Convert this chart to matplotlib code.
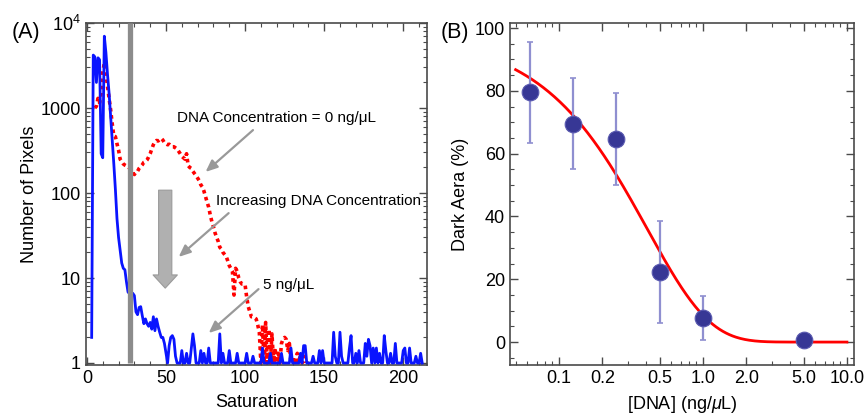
import numpy as np
import matplotlib
matplotlib.use("Agg")
import matplotlib.pyplot as plt
from matplotlib.ticker import MultipleLocator, FixedLocator, LogLocator, NullFormatter

plt.rcParams['font.family'] = ['Liberation Sans', 'DejaVu Sans']
plt.rcParams['mathtext.fontset'] = 'custom'
plt.rcParams['mathtext.it'] = 'Liberation Sans:italic'
plt.rcParams['mathtext.rm'] = 'Liberation Sans'

# --- panel A: saturation histograms (pixel counts per saturation value) ---
blue_start = 3
blue_counts = [
    2, 4200, 4000, 2000, 3900, 3700, 290, 260, 7000, 4500,          # 3-12
    2500, 1500, 800, 420, 220, 110, 50, 30, 21, 15,                 # 13-22
    13, 12.5, 9, 6.8, 6.6, 6.6, 6.6, 6.2, 4.0, 3.7,                 # 23-32
    4.5, 4.6, 3.6, 2.9, 3.3, 2.9, 2.7, 3.0, 2.5, 3.5,               # 33-42
    2.4, 3.3, 2.7, 2.3, 2.0, 2.0, 1.7, 1.3, 1.0, 1.6,               # 43-52
    2.0, 2.1, 1.9, 1.2, 1, 1, 1, 1.4, 1, 1,                         # 53-62
    1.3, 1, 1, 1.5, 2.2, 1.6, 1, 1, 1, 1.4,                         # 63-72
    1, 1.3, 1, 1, 1.5, 1, 1, 1, 1, 1,                               # 73-82
    1, 2.2, 1, 1.3, 1, 1, 1, 1.4, 1, 1,                             # 83-92
    1, 1, 1.3, 1, 1, 1, 1, 1, 1.3, 1,                               # 93-102
    1, 1, 1.2, 1, 1, 1, 1, 1, 1.5, 1,                               # 103-112
    1, 1, 1, 1.3, 1, 1, 1, 1, 1, 1,                                 # 113-122
    1.3, 1, 1, 1, 1, 1, 1.5, 1, 1, 1,                               # 123-132
    1, 1, 1.3, 1, 1.6, 1.6, 1, 1, 1, 1,                             # 133-142
    1.2, 1, 1, 1, 1.4, 1, 1.4, 1, 1, 1,                             # 143-152
    1, 1, 1, 2.3, 1.2, 1, 1, 2.3, 1.2, 1,                           # 153-162
    1, 1, 1, 1.5, 2.1, 1, 1, 1.3, 1, 1.4,                           # 163-172
    1, 1, 1, 1.7, 1.2, 1.9, 1.6, 1, 1.5, 1,                         # 173-182
    1.5, 1, 1.3, 1, 1, 2.1, 1.4, 1, 1, 1.3,                         # 183-192
    1, 1, 1.7, 1, 1, 1, 1, 1.4, 1.5, 1,                             # 193-202
    1, 1.5, 1, 1, 1, 1.2, 1, 1, 1.3, 1,                             # 203-212
]

red_start = 5
red_counts = [
    1000, 1050, 1300, 1150, 1500, 2600, 3400, 2600, 1800, 1300,     # 5-14
    950, 650, 470, 460, 380, 320, 250, 235, 220, 213,               # 15-24
    208, 205, 195, 185, 172, 165, 178, 180, 195, 205,               # 25-34
    215, 230, 235, 245, 265, 290, 330, 370, 400, 415,               # 35-44
    410, 425, 440, 420, 390, 380, 370, 375, 360, 350,               # 45-54
    350, 340, 330, 310, 290, 270, 260, 250, 290, 210,               # 55-64
    200, 195, 180, 170, 160, 150, 140, 125, 118, 105,               # 65-74
    90, 78, 68, 55, 46, 40, 34, 30, 27, 23,                         # 75-84
    22, 20, 19, 18, 16, 14, 13, 12, 6.3, 13,                        # 85-94
    12, 10, 9, 8.5, 8.5, 8.3, 6, 4.6, 4, 3.5,                       # 95-104
    3.5, 3.4, 3.3, 2.8, 2.3, 1, 2.8, 1, 3.0, 1,                     # 105-114
    2.5, 1, 2.2, 1, 1.5, 1, 1.3, 1, 1.7, 1.9,                       # 115-124
    2.0, 1.9, 1.4, 1.7, 1, 1.2, 1, 1, 1.3, 1,                       # 125-134
    1.3, 1, 1.2, 1,                                                 # 135-138
]

threshold_saturation = 27.5

# --- panel B: dark area vs DNA concentration ---
dna_conc = [0.0625, 0.125, 0.25, 0.5, 1.0, 5.0]
dark_area = [79.5, 69.5, 64.7, 22.3, 7.6, 0.8]
dark_area_err = [16.0, 14.5, 14.7, 16.3, 7.0, 0.0]

# exponential fit  y = amp * exp(-x / x0)
fit_amp = 98.0
fit_x0 = 0.41

blue_x = np.arange(blue_start, blue_start + len(blue_counts))
red_x = np.arange(red_start, red_start + len(red_counts))

fig = plt.figure(figsize=(8.65, 4.16), dpi=100)
axA = fig.add_axes([0.0994, 0.1226, 0.3942, 0.822])
axB = fig.add_axes([0.5896, 0.1226, 0.3977, 0.822])

frame_col = '#4a4a4a'
for ax in (axA, axB):
    for sp in ax.spines.values():
        sp.set_color(frame_col)
        sp.set_linewidth(1.2)
    ax.tick_params(which='both', direction='in', top=True, right=True,
                   colors=frame_col, labelcolor='black', labelsize=13)
    ax.tick_params(which='major', length=6, width=1.0)
    ax.tick_params(which='minor', length=3, width=0.8)

# panel A
axA.set_yscale('log')
axA.plot(red_x, red_counts, color='red', lw=2.6, linestyle=(0, (1, 1)),
         dash_capstyle='butt', zorder=2)
axA.plot(blue_x, blue_counts, color='#0a14ff', lw=2.0, zorder=3)
axA.vlines(threshold_saturation, 1, 1e4, color='#8c8c8c', lw=3.8, zorder=4)
axA.set_xlim(-0.6, 215)
axA.set_ylim(0.947, 1e4)
axA.xaxis.set_major_locator(MultipleLocator(50))
axA.xaxis.set_minor_locator(MultipleLocator(10))
axA.yaxis.set_major_locator(FixedLocator([1, 10, 100, 1000, 1e4]))
axA.yaxis.set_minor_locator(LogLocator(base=10, subs=np.arange(2, 10)))
axA.yaxis.set_minor_formatter(NullFormatter())
axA.set_yticklabels(['1', '10', '100', '1000', r'10$^4$'])
axA.set_xlabel('Saturation', fontsize=13, labelpad=5)
axA.set_ylabel('Number of Pixels', fontsize=13, labelpad=2)

arrow_kw = dict(arrowstyle='-|>,head_width=0.3,head_length=0.7', color='#999999',
                lw=1.6, shrinkA=0, shrinkB=0)
axA.text(120, 760, 'DNA Concentration = 0 ng/μL', fontsize=11, ha='center', va='center')
axA.annotate('', xy=(75, 177), xytext=(105, 550), arrowprops=arrow_kw)
axA.text(81.4, 80, 'Increasing DNA Concentration', fontsize=11, ha='left', va='center')
axA.annotate('', xy=(58, 17.7), xytext=(89.6, 58), arrowprops=arrow_kw)
axA.text(111.5, 8.3, '5 ng/μL', fontsize=11, ha='left', va='center')
axA.annotate('', xy=(77, 2.25), xytext=(108.5, 7.4), arrowprops=arrow_kw)
axA.annotate('', xy=(49.5, 7.6), xytext=(49.5, 108),
             arrowprops=dict(arrowstyle='simple,head_width=1.75,head_length=0.95,tail_width=0.95',
                             fc='#b0b0b0', ec='#9a9a9a', lw=0.8, shrinkA=0, shrinkB=0,
                             mutation_scale=10))
fig.text(0.014, 0.923, '(A)', fontsize=15.5, ha='left', va='center')

# panel B
axB.set_xscale('log')
xfit = np.logspace(np.log10(0.05), 1, 300)
axB.plot(xfit, fit_amp * np.exp(-xfit / fit_x0), color='red', lw=2.0, zorder=2)
axB.errorbar(dna_conc, dark_area, yerr=dark_area_err, fmt='none',
             ecolor='#8f8fd0', elinewidth=1.6, capsize=2, capthick=1.2, zorder=3)
axB.plot(dna_conc, dark_area, 'o', ms=12, color='#373795',
         mec='#5a5ab0', mew=0.8, zorder=4)
axB.set_xlim(0.0457, 11.2)
axB.set_ylim(-7.3, 101.6)
axB.yaxis.set_major_locator(MultipleLocator(20))
axB.yaxis.set_minor_locator(MultipleLocator(5))
axB.xaxis.set_major_locator(FixedLocator([0.1, 0.2, 0.5, 1, 2, 5, 10]))
axB.xaxis.set_minor_locator(LogLocator(base=10, subs=np.arange(2, 10)))
axB.xaxis.set_minor_formatter(NullFormatter())
axB.set_xticklabels(['0.1', '0.2', '0.5', '1.0', '2.0', '5.0', '10.0'])
axB.set_xlabel(r'[DNA] (ng/$\mu$L)', fontsize=13, labelpad=5)
axB.set_ylabel('Dark Aera (%)', fontsize=13, labelpad=4)
fig.text(0.5095, 0.923, '(B)', fontsize=15.5, ha='left', va='center')

fig.savefig('out.png', dpi=100)
